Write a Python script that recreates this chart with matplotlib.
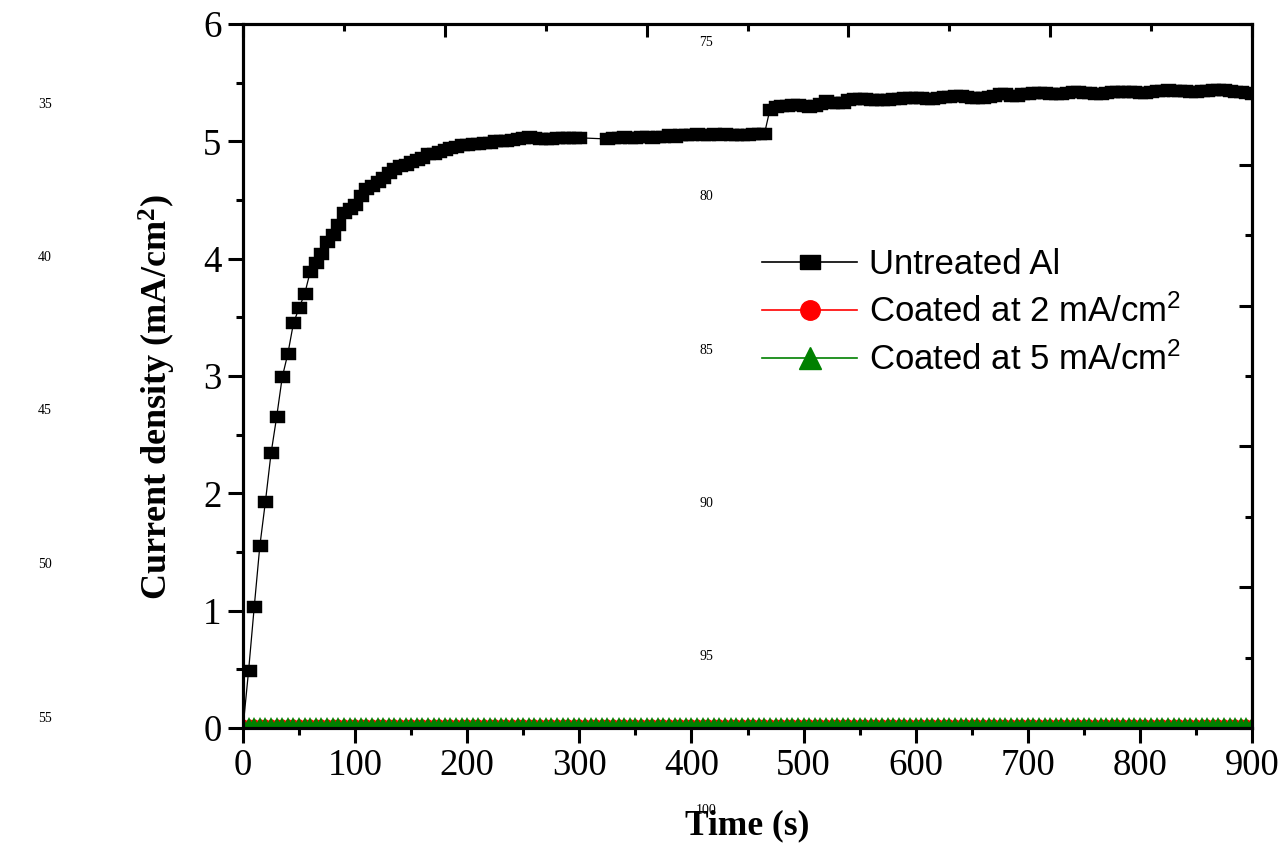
import numpy as np
import matplotlib
matplotlib.use("Agg")
import matplotlib.pyplot as plt
from matplotlib.ticker import MultipleLocator
from matplotlib.lines import Line2D

# フォント設定
plt.rcParams['font.family'] = ['Liberation Serif', 'DejaVu Serif']
plt.rcParams['mathtext.fontset'] = 'custom'
plt.rcParams['mathtext.default'] = 'regular'

# 未処理Al: 5 s 毎のデータ (305-320 s は欠測)
time_untreated = np.r_[np.arange(0, 301, 5), np.arange(325, 466, 5), np.arange(470, 901, 5)]
current_untreated = [
    0.00, 0.49, 1.03, 1.55, 1.93, 2.34, 2.65, 2.99, 3.19, 3.45,
    3.58, 3.70, 3.89, 3.96, 4.04, 4.14, 4.20, 4.29, 4.39, 4.42,
    4.46, 4.53, 4.59, 4.62, 4.65, 4.69, 4.73, 4.76, 4.79, 4.80,
    4.82, 4.84, 4.86, 4.89, 4.89, 4.91, 4.93, 4.94, 4.95, 4.97,
    4.97, 4.98, 4.98, 4.99, 4.99, 5.00, 5.00, 5.00, 5.01, 5.02,
    5.03, 5.04, 5.03, 5.02, 5.02, 5.02, 5.03, 5.03, 5.03, 5.03,
    5.03,
    5.02, 5.03, 5.03, 5.04, 5.03, 5.03, 5.04, 5.04, 5.03, 5.04,
    5.04, 5.05, 5.04, 5.05, 5.05, 5.05, 5.06, 5.05, 5.05, 5.06,
    5.05, 5.06, 5.05, 5.05, 5.05, 5.05, 5.06, 5.06, 5.06,
    5.27, 5.29, 5.30, 5.30, 5.31, 5.31, 5.30, 5.29, 5.30, 5.32,
    5.34, 5.33, 5.33, 5.33, 5.35, 5.36, 5.36, 5.36, 5.35, 5.35,
    5.35, 5.35, 5.36, 5.36, 5.37, 5.37, 5.37, 5.37, 5.36, 5.36,
    5.37, 5.38, 5.38, 5.39, 5.39, 5.38, 5.37, 5.37, 5.37, 5.38,
    5.39, 5.40, 5.40, 5.39, 5.39, 5.40, 5.40, 5.41, 5.41, 5.41,
    5.40, 5.40, 5.40, 5.41, 5.42, 5.42, 5.41, 5.41, 5.40, 5.40,
    5.41, 5.42, 5.42, 5.42, 5.42, 5.42, 5.41, 5.41, 5.42, 5.43,
    5.43, 5.44, 5.43, 5.43, 5.43, 5.42, 5.42, 5.43, 5.43, 5.44,
    5.44, 5.44, 5.43, 5.42, 5.42, 5.41, 5.40,
]

# 被膜試料: 5 s 毎 (0-900 s)
time_coated = np.arange(0, 901, 5)
current_coated_2 = [
    0.045, 0.045, 0.045, 0.045, 0.045, 0.045, 0.045, 0.045, 0.045, 0.045,
    0.045, 0.045, 0.045, 0.045, 0.045, 0.045, 0.045, 0.045, 0.045, 0.045,
    0.045, 0.045, 0.045, 0.045, 0.045, 0.045, 0.045, 0.045, 0.045, 0.045,
    0.045, 0.045, 0.045, 0.045, 0.045, 0.045, 0.045, 0.045, 0.045, 0.045,
    0.045, 0.045, 0.045, 0.045, 0.045, 0.045, 0.045, 0.045, 0.045, 0.045,
    0.045, 0.045, 0.045, 0.045, 0.045, 0.045, 0.045, 0.045, 0.045, 0.045,
    0.045, 0.045, 0.045, 0.045, 0.045, 0.045, 0.045, 0.045, 0.045, 0.045,
    0.045, 0.045, 0.045, 0.045, 0.045, 0.045, 0.045, 0.045, 0.045, 0.045,
    0.045, 0.045, 0.045, 0.045, 0.045, 0.045, 0.045, 0.045, 0.045, 0.045,
    0.045, 0.045, 0.045, 0.045, 0.045, 0.045, 0.045, 0.045, 0.045, 0.045,
    0.045, 0.045, 0.045, 0.045, 0.045, 0.045, 0.045, 0.045, 0.045, 0.045,
    0.045, 0.045, 0.045, 0.045, 0.045, 0.045, 0.045, 0.045, 0.045, 0.045,
    0.045, 0.045, 0.045, 0.045, 0.045, 0.045, 0.045, 0.045, 0.045, 0.045,
    0.045, 0.045, 0.045, 0.045, 0.045, 0.045, 0.045, 0.045, 0.045, 0.045,
    0.045, 0.045, 0.045, 0.045, 0.045, 0.045, 0.045, 0.045, 0.045, 0.045,
    0.045, 0.045, 0.045, 0.045, 0.045, 0.045, 0.045, 0.045, 0.045, 0.045,
    0.045, 0.045, 0.045, 0.045, 0.045, 0.045, 0.045, 0.045, 0.045, 0.045,
    0.045, 0.045, 0.045, 0.045, 0.045, 0.045, 0.045, 0.045, 0.045, 0.045,
    0.045,
]
current_coated_5 = [
    0.04, 0.04, 0.04, 0.04, 0.04, 0.04, 0.04, 0.04, 0.04, 0.04,
    0.04, 0.04, 0.04, 0.04, 0.04, 0.04, 0.04, 0.04, 0.04, 0.04,
    0.04, 0.04, 0.04, 0.04, 0.04, 0.04, 0.04, 0.04, 0.04, 0.04,
    0.04, 0.04, 0.04, 0.04, 0.04, 0.04, 0.04, 0.04, 0.04, 0.04,
    0.04, 0.04, 0.04, 0.04, 0.04, 0.04, 0.04, 0.04, 0.04, 0.04,
    0.04, 0.04, 0.04, 0.04, 0.04, 0.04, 0.04, 0.04, 0.04, 0.04,
    0.04, 0.04, 0.04, 0.04, 0.04, 0.04, 0.04, 0.04, 0.04, 0.04,
    0.04, 0.04, 0.04, 0.04, 0.04, 0.04, 0.04, 0.04, 0.04, 0.04,
    0.04, 0.04, 0.04, 0.04, 0.04, 0.04, 0.04, 0.04, 0.04, 0.04,
    0.04, 0.04, 0.04, 0.04, 0.04, 0.04, 0.04, 0.04, 0.04, 0.04,
    0.04, 0.04, 0.04, 0.04, 0.04, 0.04, 0.04, 0.04, 0.04, 0.04,
    0.04, 0.04, 0.04, 0.04, 0.04, 0.04, 0.04, 0.04, 0.04, 0.04,
    0.04, 0.04, 0.04, 0.04, 0.04, 0.04, 0.04, 0.04, 0.04, 0.04,
    0.04, 0.04, 0.04, 0.04, 0.04, 0.04, 0.04, 0.04, 0.04, 0.04,
    0.04, 0.04, 0.04, 0.04, 0.04, 0.04, 0.04, 0.04, 0.04, 0.04,
    0.04, 0.04, 0.04, 0.04, 0.04, 0.04, 0.04, 0.04, 0.04, 0.04,
    0.04, 0.04, 0.04, 0.04, 0.04, 0.04, 0.04, 0.04, 0.04, 0.04,
    0.04, 0.04, 0.04, 0.04, 0.04, 0.04, 0.04, 0.04, 0.04, 0.04,
    0.04,
]

series_labels = ['Untreated Al', 'Coated at 2 mA/cm$^2$', 'Coated at 5 mA/cm$^2$']

# 余白にある行番号
margin_numbers_left = [35, 40, 45, 50, 55]
margin_numbers_mid = [75, 80, 85, 90, 95, 100]

W, H = 1286, 843
fig = plt.figure(figsize=(W / 100, H / 100), dpi=100)
ax = fig.add_axes([243 / W, 1 - 728 / H, (1252 - 243) / W, (728 - 24) / H])

# 横長の四角マーカー
rect = [(-1.35, -1), (1.35, -1), (1.35, 1), (-1.35, 1), (-1.35, -1)]

ax.plot(time_untreated, current_untreated, color='black', lw=0.9,
        marker=rect, ms=10.8, mfc='black', mec='black', mew=0.3)
ax.plot(time_coated, current_coated_2, color='red', lw=0.9,
        marker='o', ms=6, mfc='red', mec='red', mew=0)
ax.plot(time_coated, current_coated_5, color='green', lw=0.9,
        marker='^', ms=8, mfc='green', mec='green', mew=0)

ax.set_xlim(0, 900)
ax.set_ylim(0, 6)
ax.xaxis.set_major_locator(MultipleLocator(100))
ax.xaxis.set_minor_locator(MultipleLocator(50))
ax.yaxis.set_major_locator(MultipleLocator(1))
ax.yaxis.set_minor_locator(MultipleLocator(0.5))
ax.tick_params(which='major', direction='out', length=10.5, width=2.2, labelsize=26.5)
ax.tick_params(which='minor', direction='out', length=5, width=2.2)
ax.tick_params(axis='y', which='major', pad=5)
ax.tick_params(axis='x', which='major', pad=4)
for sp in ax.spines.values():
    sp.set_linewidth(2.2)

ax.set_xlabel('Time (s)', fontsize=25.5, fontweight='bold', labelpad=19)
ax.set_ylabel('Current density (mA/cm$^2$)', fontsize=26, fontweight='bold')
ax.yaxis.set_label_coords(-0.064, 0.47)

# 上側・右側の目盛り (内向き, ラベルなし)
ax_top = ax.twiny()
ax_top.set_xlim(0, 900)
ax_top.xaxis.set_major_locator(MultipleLocator(180))
ax_top.xaxis.set_minor_locator(MultipleLocator(90))
ax_top.tick_params(which='major', direction='in', length=9.5, width=2.2, labeltop=False)
ax_top.tick_params(which='minor', direction='in', length=5, width=2.2)

ax_right = ax.twinx()
ax_right.set_ylim(0, 6)
ax_right.yaxis.set_major_locator(MultipleLocator(1.2))
ax_right.yaxis.set_minor_locator(MultipleLocator(0.6))
ax_right.tick_params(which='major', direction='in', length=9.5, width=2.2, labelright=False)
ax_right.tick_params(which='minor', direction='in', length=5, width=2.2)
for a in (ax_top, ax_right):
    for sp in a.spines.values():
        sp.set_linewidth(2.2)

# 凡例
handles = [
    Line2D([], [], color='black', lw=1.2, marker=rect, ms=14, mfc='black', mec='black'),
    Line2D([], [], color='red', lw=1.2, marker='o', ms=14, mfc='red', mec='red'),
    Line2D([], [], color='green', lw=1.2, marker='^', ms=16, mfc='green', mec='green'),
]
fig.legend(handles, series_labels, loc='upper left',
           bbox_to_anchor=(762 / W, 1 - 248 / H), bbox_transform=fig.transFigure,
           frameon=False, borderpad=0, borderaxespad=0, handlelength=2.75,
           handletextpad=0.34, labelspacing=0.39,
           prop={'family': 'Liberation Sans', 'size': 25})

# 余白の行番号
for i, n in enumerate(margin_numbers_left):
    fig.text(45 / W, 1 - (104 + 153.5 * i) / H, str(n), fontsize=10,
             ha='center', va='center')
for i, n in enumerate(margin_numbers_mid):
    fig.text(706 / W, 1 - (43 + 153.5 * i) / H, str(n), fontsize=10,
             ha='center', va='center')

fig.savefig('out.png', dpi=100)
